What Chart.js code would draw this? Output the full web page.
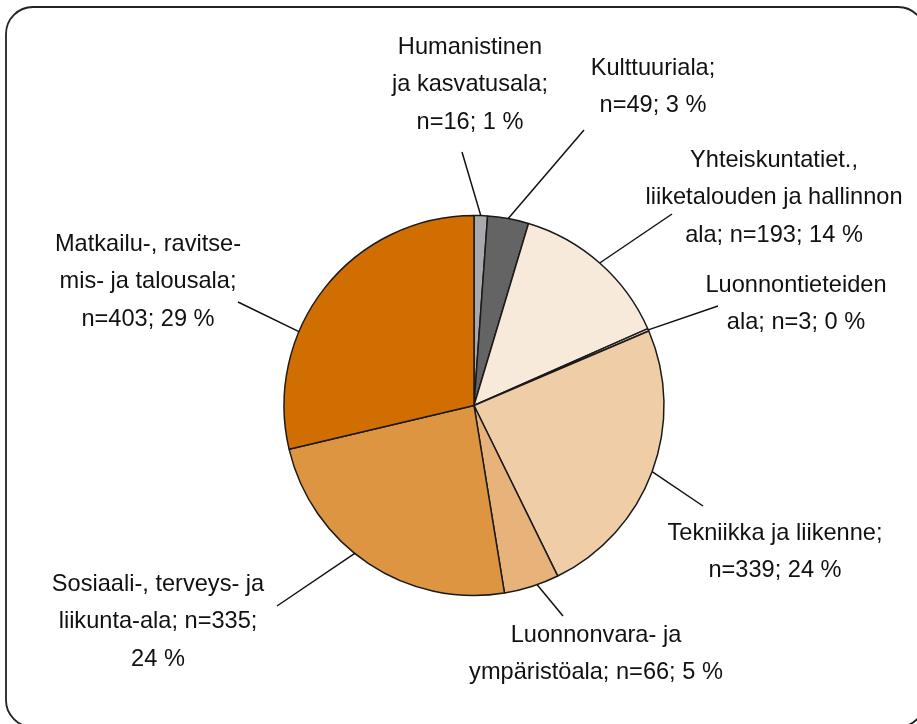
<!DOCTYPE html>
<html>
<head>
<meta charset="utf-8">
<script src="https://cdn.jsdelivr.net/npm/chart.js@4/dist/chart.umd.min.js"></script>
<style>
  html, body { margin: 0; padding: 0; background: #fff; }
  #wrap { width: 917px; height: 724px; position: relative; }
</style>
</head>
<body>
<div id="wrap"><canvas id="pieChart"></canvas></div>
<script>
// Data
const categories = [
    "Humanistinen ja kasvatusala",
    "Kulttuuriala",
    "Yhteiskuntatiet., liiketalouden ja hallinnon ala",
    "Luonnontieteiden ala",
    "Tekniikka ja liikenne",
    "Luonnonvara- ja ympäristöala",
    "Sosiaali-, terveys- ja liikunta-ala",
    "Matkailu-, ravitsemis- ja talousala",
];
const counts = [16, 49, 193, 3, 339, 66, 335, 403];
const percents = [1, 3, 14, 0, 24, 5, 24, 29];
const labelLines = [
    ["Humanistinen", "ja kasvatusala;", "n=16; 1 %"],
    ["Kulttuuriala;", "n=49; 3 %"],
    ["Yhteiskuntatiet.,", "liiketalouden ja hallinnon", "ala; n=193; 14 %"],
    ["Luonnontieteiden", "ala; n=3; 0 %"],
    ["Tekniikka ja liikenne;", "n=339; 24 %"],
    ["Luonnonvara- ja", "ympäristöala; n=66; 5 %"],
    ["Sosiaali-, terveys- ja", "liikunta-ala; n=335;", "24 %"],
    ["Matkailu-, ravitse-", "mis- ja talousala;", "n=403; 29 %"],
];

// Styles / label placement (text centre of first line, outer end of leader, angle tweak)
const sliceColors = ["#a7a9ac", "#646464", "#f7eadb", "#f3dec4", "#efcea7", "#e8b37b", "#dd9542", "#d06e02"];
const labelLayout = [
    { tx: 470, ty: 47, lx: 462, ly: 152, da: 0 },
    { tx: 653, ty: 68, lx: 584, ly: 130, da: 0 },
    { tx: 774, ty: 160, lx: 672, ly: 214, da: 0 },
    { tx: 796, ty: 285, lx: 718, ly: 306, da: 0 },
    { tx: 775, ty: 533, lx: 703, ly: 506, da: 0 },
    { tx: 596, ty: 635, lx: 563, ly: 616, da: -0.03 },
    { tx: 158, ty: 584, lx: 277, ly: 606, da: 0.09 },
    { tx: 148, ty: 244, lx: 238, ly: 302, da: -0.27 },
];
const lineHeight = 37.5;
const labelFont = "23.6px 'Liberation Sans', Arial, Helvetica, sans-serif";

const frame = {
    id: "frame",
    beforeDraw(chart) {
        const c = chart.ctx;
        c.save();
        c.fillStyle = "#fff";
        c.fillRect(0, 0, chart.width, chart.height);
        c.strokeStyle = "#222";
        c.lineWidth = 1.8;
        c.beginPath();
        c.roundRect(6, 7, 919, 720, 27);
        c.stroke();
        c.restore();
    },
};

const outsideLabels = {
    id: "outsideLabels",
    afterDraw(chart) {
        const c = chart.ctx;
        const meta = chart.getDatasetMeta(0);
        c.save();
        meta.data.forEach((arc, i) => {
            const p = arc.getProps(["x", "y", "startAngle", "endAngle", "outerRadius"], true);
            const lay = labelLayout[i];
            const a = (p.startAngle + p.endAngle) / 2 + lay.da;
            const x0 = p.x + Math.cos(a) * p.outerRadius;
            const y0 = p.y + Math.sin(a) * p.outerRadius;
            c.strokeStyle = "#111";
            c.lineWidth = 1.5;
            c.beginPath();
            c.moveTo(x0, y0);
            c.lineTo(lay.lx, lay.ly);
            c.stroke();

            c.fillStyle = "#111";
            c.font = labelFont;
            c.textAlign = "center";
            c.textBaseline = "middle";
            labelLines[i].forEach((t, k) => {
                c.fillText(t, lay.tx, lay.ty + k * lineHeight);
            });
        });
        c.restore();
    },
};

document.addEventListener("DOMContentLoaded", function () {
    var ctx = document.getElementById("pieChart").getContext("2d");

    var config = {
        type: "pie",
        data: {
            labels: categories,
            datasets: [
                {
                    data: counts,
                    backgroundColor: sliceColors,
                    borderColor: "#1a1a1a",
                    borderWidth: 1.5,
                },
            ],
        },
        options: {
            responsive: true,
            maintainAspectRatio: false,
            animation: false,
            radius: 190,
            layout: {
                padding: { left: 131, right: 100, top: 187, bottom: 100 },
            },
            plugins: {
                legend: { display: false },
                tooltip: { enabled: false },
            },
        },
        plugins: [frame, outsideLabels],
    };

    new Chart(ctx, config);
});
</script>
</body>
</html>
